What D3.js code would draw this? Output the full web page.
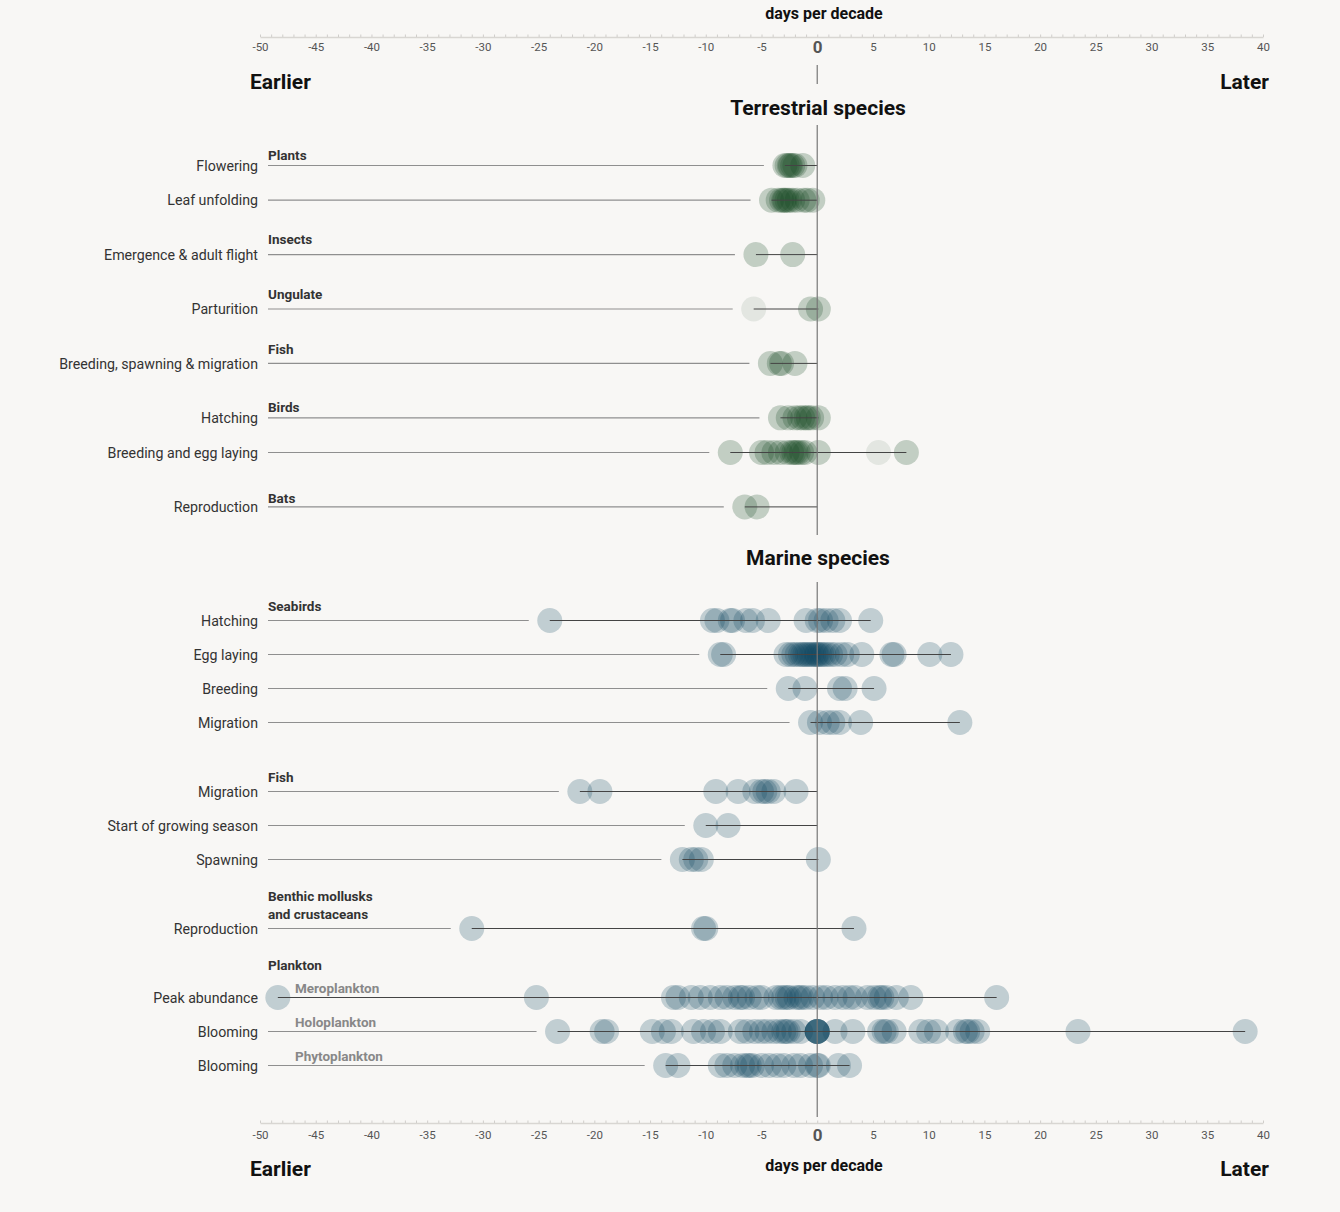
<!DOCTYPE html>
<html>
<head>
<meta charset="utf-8">
<script src="https://cdn.jsdelivr.net/npm/d3@7"></script>
<style>
  html, body { margin: 0; padding: 0; background: #f8f7f5; }
  svg { display: block; font-family: Roboto, "Noto Sans", sans-serif; }
</style>
</head>
<body>
<svg id="chart" width="1340" height="1212"></svg>
<script>
// ---------------- DATA ----------------
const tickValues = [-50, -45, -40, -35, -30, -25, -20, -15, -10, -5, 0, 5, 10, 15, 20, 25, 30, 35, 40];
const axisTitle = "days per decade";
const sectionTitles = ["Terrestrial species", "Marine species"];

const terrestrialLabels = ["Flowering", "Leaf unfolding", "Emergence & adult flight", "Parturition",
  "Breeding, spawning & migration", "Hatching", "Breeding and egg laying", "Reproduction"];
const terrestrialGroups = ["Plants", "", "Insects", "Ungulate", "Fish", "Birds", "", "Bats"];
const terrestrialValues = [
  [-2.9, -2.7, -2.5, -2.4, -2.2, -2.0, -1.3],
  [-4.1, -3.5, -3.2, -3.0, -2.9, -2.7, -2.5, -2.2, -1.8, -1.2, -0.9, -0.4],
  [-5.5, -2.2],
  [-0.6, 0.1],
  [-4.2, -3.4, -3.2, -2.0],
  [-3.3, -2.6, -2.0, -1.6, -1.3, -1.0, -0.8, -0.5, 0.1],
  [-7.8, -5.0, -4.5, -3.9, -3.3, -2.7, -2.3, -2.1, -1.9, -1.7, -1.4, -1.1, 0.1, 8.0],
  [-6.5, -5.4]
];
const terrestrialFaint = [[], [], [], [-5.7], [], [], [5.5], []];

const marineLabels = ["Hatching", "Egg laying", "Breeding", "Migration", "Migration",
  "Start of growing season", "Spawning", "Reproduction", "Peak abundance", "Blooming", "Blooming"];
const marineGroups = ["Seabirds", "", "", "", "Fish", "", "", "Benthic mollusks|and crustaceans", "Plankton", "", ""];
const marineSubLabels = ["", "", "", "", "", "", "", "", "Meroplankton", "Holoplankton", "Phytoplankton"];
const marineValues = [
  [-24.0, -9.4, -9.0, -7.8, -7.6, -6.4, -5.8, -4.4, -1.0, 0, 0.3, 0.8, 1.4, 2.0, 4.8],
  [-8.7, -8.4, -2.8, -2.4, -2.1, -1.8, -1.5, -1.3, -1.1, -0.9, -0.7, -0.5, -0.3, -0.1, 0, 0.2, 0.4, 0.6, 0.9, 1.2, 1.6, 2.2, 2.7, 4.0, 6.7, 6.9, 10.1, 12.0],
  [-2.6, -1.1, 2.0, 2.5, 5.1],
  [-0.6, 0.2, 0.9, 1.4, 2.0, 3.9, 12.8],
  [-21.3, -19.5, -9.1, -7.1, -5.6, -5.0, -4.7, -4.4, -3.9, -1.9],
  [-10.0, -8.0],
  [-12.1, -11.3, -10.9, -10.4, 0.1],
  [-31.0, -10.2, -10.0, 3.3],
  [-48.4, -25.2, -12.9, -12.5, -11.3, -10.5, -9.6, -8.7, -8.1, -7.4, -6.9, -6.7, -6.1, -5.4, -5.0, -3.7, -3.3, -3.0, -2.7, -2.5, -1.9, -1.6, -1.4, -1.0, -0.4, 0.3, 0.8, 1.6, 2.3, 2.9, 3.4, 4.5, 5.1, 5.6, 5.8, 6.2, 7.1, 8.4, 16.1],
  [-23.3, -19.3, -18.9, -14.8, -13.8, -13.1, -11.1, -10.2, -9.4, -8.7, -6.9, -6.3, -5.6, -5.0, -4.5, -3.9, -3.4, -3.0, -2.8, -2.6, -2.1, -1.5, 0, 0, 0, 0, 0, 0, 1.6, 3.2, 5.6, 6.0, 6.2, 6.9, 9.3, 10.0, 10.7, 12.6, 13.3, 13.5, 13.9, 14.4, 23.4, 38.4],
  [-13.6, -12.5, -8.7, -8.1, -7.4, -6.7, -6.3, -6.1, -5.8, -5.0, -4.3, -3.6, -3.0, -2.1, -1.5, -0.6, 0, 0.1, 1.9, 2.9]
];
const marineFaint = [[], [], [], [], [], [], [], [], [], [], []];

// group index per row (used for vertical gaps)
const terrestrialGroupIndex = [0, 0, 1, 2, 3, 4, 4, 5];
const marineGroupIndex = [0, 0, 0, 0, 1, 1, 1, 2, 3, 3, 3];

// ---------------- LAYOUT ----------------
const W = 1340, H = 1212;
const svg = d3.select("#chart");
svg.append("rect").attr("width", W).attr("height", H).attr("fill", "#f8f7f5");

const x = d3.scaleLinear().domain([-50, 40]).range([260, 1263]);
const labelRight = 258, lineLeft = 268;
const R = 12.5;

const terrLayout = { top: 165.5, step: 34.7, gap: 19.7, groupDy: [10.5, 0, 15, 15, 14, 11, 0, 9] };
const marLayout = { top: 620.5, step: 34, gap: 35, groupDy: [14, 0, 0, 0, 14, 0, 0, 14, 32, 0, 0], subDy: 9 };

const terrColor = "#12461f", marColor = "#0b4561";
const dotOpacity = 0.23, faintOpacity = 0.09;

// ---------------- AXES ----------------
function drawAxis(yLine, labelY, titleY, sideY) {
  const g = svg.append("g");
  const minor = g.append("g").attr("transform", `translate(0,${yLine})`)
    .call(d3.axisTop(x).ticks(90).tickSize(2.5).tickFormat("").tickSizeOuter(0));
  minor.select(".domain").attr("stroke", "#d8d6d2").attr("stroke-width", 1.4);
  minor.selectAll(".tick line").attr("stroke", "#d0cecb");
  const lab = g.append("g").attr("transform", `translate(0,${labelY})`)
    .call(d3.axisBottom(x).tickValues(tickValues).tickSize(0).tickPadding(0).tickFormat(d => String(d)));
  lab.select(".domain").remove();
  lab.selectAll(".tick text")
    .attr("dy", "0.35em").attr("y", 0)
    .attr("fill", "#555").attr("font-size", 11.5)
    .attr("font-family", "Roboto, sans-serif")
    .each(function(d) {
      if (d === 0) d3.select(this).attr("font-size", 17).attr("font-weight", 700).attr("fill", "#555");
    });
  g.append("text").attr("x", 824).attr("y", titleY).attr("text-anchor", "middle")
    .attr("font-size", 16).attr("font-weight", 700).attr("fill", "#111").text(axisTitle);
  g.append("text").attr("x", 250).attr("y", sideY)
    .attr("font-size", 21).attr("font-weight", 700).attr("fill", "#111").text("Earlier");
  g.append("text").attr("x", 1269).attr("y", sideY).attr("text-anchor", "end")
    .attr("font-size", 21).attr("font-weight", 700).attr("fill", "#111").text("Later");
}
drawAxis(37, 47, 19, 89);
drawAxis(1123, 1135, 1171, 1176);

svg.append("text").attr("x", 818).attr("y", 115).attr("text-anchor", "middle")
  .attr("font-size", 21).attr("font-weight", 700).attr("fill", "#111").text(sectionTitles[0]);
svg.append("text").attr("x", 818).attr("y", 565).attr("text-anchor", "middle")
  .attr("font-size", 21).attr("font-weight", 700).attr("fill", "#111").text(sectionTitles[1]);

// ---------------- ROWS ----------------
function drawSection(labels, groups, subs, values, faint, groupIdx, layout, color) {
  const g = svg.append("g");
  labels.forEach((label, i) => {
    const y = layout.top + i * layout.step + groupIdx[i] * layout.gap;
    const vals = values[i];
    const allVals = vals.concat(faint[i]);
    const vmin = d3.min(allVals), vmax = d3.max(allVals);
    const xMin = x(Math.min(vmin, 0)), xMax = x(Math.max(vmax, 0));

    g.append("text").attr("x", labelRight).attr("y", y).attr("dy", "0.36em")
      .attr("text-anchor", "end").attr("font-size", 14.2).attr("fill", "#333").text(label);

    if (groups[i]) {
      const lines = groups[i].split("|");
      const dy = layout.groupDy[i];
      lines.forEach((ln, k) => {
        g.append("text").attr("x", lineLeft).attr("y", y - dy - (lines.length - 1 - k) * 18).attr("dy", "0.36em")
          .attr("font-size", 13.5).attr("font-weight", 700).attr("fill", "#333").text(ln);
      });
    }
    if (subs && subs[i]) {
      g.append("text").attr("x", 295).attr("y", y - layout.subDy).attr("dy", "0.36em")
        .attr("font-size", 13.5).attr("font-weight", 700).attr("fill", "#888").text(subs[i]);
    }

    const greyEnd = x(vmin) - 21;
    if (greyEnd > lineLeft) {
      g.append("line").attr("x1", lineLeft).attr("x2", greyEnd).attr("y1", y).attr("y2", y)
        .attr("stroke", "#8f8f8f").attr("stroke-width", 1.2);
    }

    g.selectAll(null).data(faint[i]).enter().append("circle")
      .attr("cx", d => x(d)).attr("cy", y).attr("r", R)
      .attr("fill", color).attr("fill-opacity", faintOpacity);
    g.selectAll(null).data(vals).enter().append("circle")
      .attr("cx", d => x(d)).attr("cy", y).attr("r", R)
      .attr("fill", color).attr("fill-opacity", dotOpacity);

    g.append("line").attr("x1", xMin).attr("x2", xMax).attr("y1", y).attr("y2", y)
      .attr("stroke", "#444").attr("stroke-width", 1);
  });
}
drawSection(terrestrialLabels, terrestrialGroups, null, terrestrialValues, terrestrialFaint,
  terrestrialGroupIndex, terrLayout, terrColor);
drawSection(marineLabels, marineGroups, marineSubLabels, marineValues, marineFaint,
  marineGroupIndex, marLayout, marColor);

const zeroSegs = [[65, 84], [125, 535], [582, 1117]];
svg.selectAll(".zero").data(zeroSegs).enter().append("line")
  .attr("x1", x(0)).attr("x2", x(0)).attr("y1", d => d[0]).attr("y2", d => d[1])
  .attr("stroke", "#777").attr("stroke-width", 1.2);
</script>
</body>
</html>
